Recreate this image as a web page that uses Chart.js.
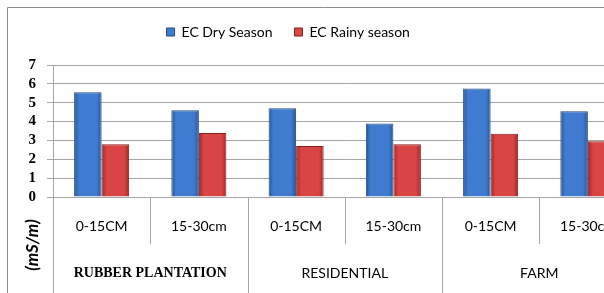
<!DOCTYPE html>
<html><head><meta charset="utf-8">
<script src="https://cdn.jsdelivr.net/npm/chart.js@4/dist/chart.umd.min.js"></script>
<style>html,body{margin:0;padding:0;overflow:hidden;background:#fff;width:604px;height:293px}#wrap{position:absolute;left:0;top:0;width:640px;height:293px}</style>
</head><body><div id="wrap"><canvas id="c" width="640" height="293"></canvas></div>
<script>
const depthLabels = ['0-15CM','15-30cm','0-15CM','15-30cm','0-15CM','15-30cm'];
const groupLabels = ['RUBBER PLANTATION','RESIDENTIAL','FARM'];
const ecDry = [5.55, 4.6, 4.7, 3.9, 5.75, 4.55];
const ecRainy = [2.8, 3.4, 2.7, 2.8, 3.35, 2.95];
const yTitle = '(mS/m)';

const CAT_PCT = 0.566;
const palette = [
  { edge: '#2a5596', mid: '#3f7ccf', solid: '#3c76c6', border: '#23497f' },
  { edge: '#a32828', mid: '#d94444', solid: '#d23c3c', border: '#842020' }
];
function barFill(ctx) {
  const p = palette[ctx.datasetIndex];
  const chart = ctx.chart, xs = chart.scales && chart.scales.x;
  if (!xs || !(xs.right > xs.left) || ctx.dataIndex === undefined) return p.solid;
  const cw = (xs.right - xs.left) / depthLabels.length;
  const bw = cw * CAT_PCT / 2;
  const left = xs.getPixelForValue(ctx.dataIndex) - bw + ctx.datasetIndex * bw;
  if (!isFinite(left)) return p.solid;
  const g = chart.ctx.createLinearGradient(left, 0, left + bw, 0);
  g.addColorStop(0, p.edge);
  g.addColorStop(0.18, p.mid);
  g.addColorStop(0.82, p.mid);
  g.addColorStop(1, p.edge);
  return g;
}

const decor = {
  id: 'decor',
  afterLayout(chart) {
    const lg = chart.legend;
    lg.left -= 30; lg.right -= 30;
    lg.top -= 16; lg.bottom -= 16;
  },
  beforeDraw(chart) {
    const c = chart.ctx;
    c.save();
    c.strokeStyle = '#8c8c8c'; c.lineWidth = 1;
    c.beginPath(); c.moveTo(7.5, 293); c.lineTo(7.5, 7.5); c.lineTo(640, 7.5); c.stroke();
    c.restore();
  },
  afterDraw(chart) {
    const c = chart.ctx, x = chart.scales.x, a = chart.chartArea;
    c.save();
    c.strokeStyle = '#a6a6a6'; c.lineWidth = 1;
    const n = depthLabels.length;
    for (let i = 0; i <= n; i++) {
      let px;
      if (i === 0) px = a.left;
      else if (i === n) px = a.right;
      else px = (x.getPixelForValue(i - 1) + x.getPixelForValue(i)) / 2;
      px = Math.round(px) + 0.5;
      const end = (i % 2 === 0) ? 293 : 244;
      c.beginPath(); c.moveTo(px, i === 0 ? a.top : a.bottom); c.lineTo(px, end); c.stroke();
    }
    c.fillStyle = '#000';
    c.font = 'italic bold 17px Lato';
    c.translate(33, 245); c.rotate(-Math.PI / 2);
    c.textAlign = 'center'; c.textBaseline = 'middle';
    c.fillText(yTitle, 0, 0);
    c.restore();
  }
};

new Chart(document.getElementById('c'), {
  type: 'bar',
  data: {
    labels: depthLabels,
    datasets: [
      { label: 'EC Dry Season', data: ecDry, backgroundColor: barFill, borderColor: palette[0].border, borderWidth: 1 },
      { label: 'EC Rainy season', data: ecRainy, backgroundColor: barFill, borderColor: palette[1].border, borderWidth: 1 }
    ]
  },
  plugins: [decor],
  options: {
    responsive: false,
    animation: false,
    events: [],
    layout: { padding: { top: 19, right: 3.5, left: 0, bottom: 0 } },
    datasets: { bar: { categoryPercentage: CAT_PCT, barPercentage: 1.0 } },
    plugins: {
      legend: {
        position: 'top',
        labels: {
          boxWidth: 8, boxHeight: 8, padding: 22, color: '#000', font: { family: 'Lato', size: 14 },
          generateLabels(chart) {
            return chart.data.datasets.map((d, i) => ({
              text: d.label, fillStyle: palette[i].mid, strokeStyle: palette[i].border, lineWidth: 1,
              hidden: false, datasetIndex: i
            }));
          }
        }
      },
      tooltip: { enabled: false }
    },
    scales: {
      y: {
        min: 0, max: 7,
        ticks: { stepSize: 1, autoSkip: false, padding: 11, color: '#000', font: { family: 'Liberation Serif', size: 15, weight: 'bold' } },
        grid: { color: '#a6a6a6', lineWidth: 1, tickLength: 6 },
        border: { display: true, color: '#a6a6a6' },
        afterFit(s) { s.width = 53; }
      },
      x: {
        weight: 0,
        grid: { display: false },
        border: { display: false },
        ticks: { padding: 13, color: '#000', maxRotation: 0, autoSkip: false, font: { family: 'Lato', size: 14 } },
        afterFit(s) { s.height = 47; }
      },
      x2: {
        type: 'category',
        labels: groupLabels,
        position: 'bottom',
        weight: 1,
        offset: true,
        grid: { display: false },
        border: { display: false },
        ticks: {
          padding: 13, color: '#000', maxRotation: 0, autoSkip: false,
          font: (ctx) => ctx.index === 0 ? { family: 'Liberation Serif', size: 14, weight: 'bold' } : { family: 'Lato', size: 14 }
        },
        afterFit(s) { s.height = 49; }
      }
    }
  }
});
</script></body></html>
